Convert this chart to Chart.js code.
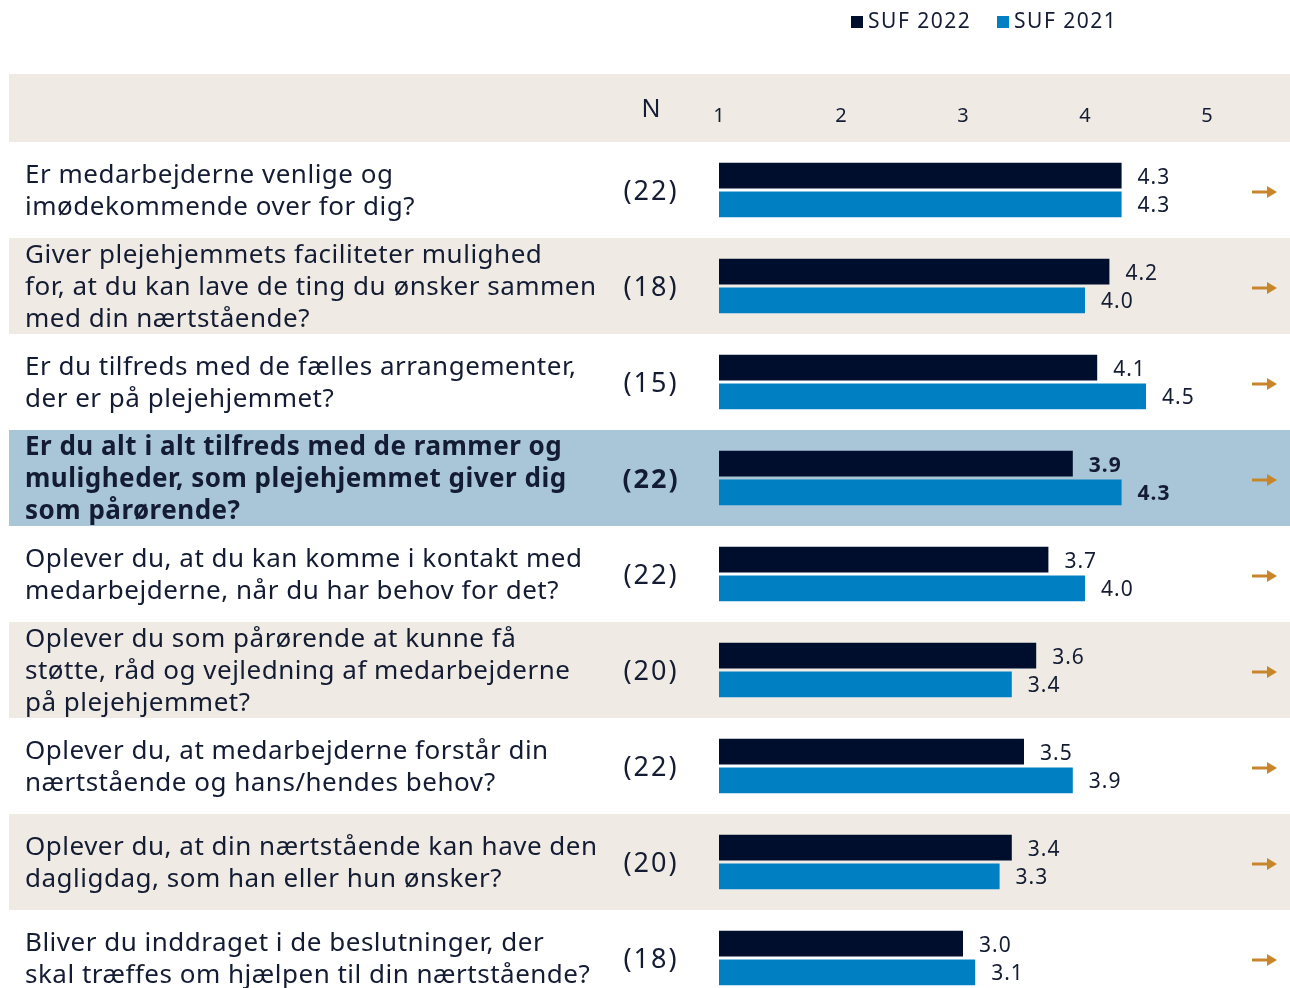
<!DOCTYPE html>
<html>
<head>
<meta charset="utf-8">
<script src="https://cdn.jsdelivr.net/npm/chart.js@4"></script>
<style>
html,body{margin:0;padding:0;background:#fff;overflow:hidden;}
canvas{display:block;}
</style>
</head>
<body>
<canvas id="c" width="1290" height="1006"></canvas>
<script>
const questions = [
  ["Er medarbejderne venlige og", "imødekommende over for dig?"],
  ["Giver plejehjemmets faciliteter mulighed", "for, at du kan lave de ting du ønsker sammen", "med din nærtstående?"],
  ["Er du tilfreds med de fælles arrangementer,", "der er på plejehjemmet?"],
  ["Er du alt i alt tilfreds med de rammer og", "muligheder, som plejehjemmet giver dig", "som pårørende?"],
  ["Oplever du, at du kan komme i kontakt med", "medarbejderne, når du har behov for det?"],
  ["Oplever du som pårørende at kunne få", "støtte, råd og vejledning af medarbejderne", "på plejehjemmet?"],
  ["Oplever du, at medarbejderne forstår din", "nærtstående og hans/hendes behov?"],
  ["Oplever du, at din nærtstående kan have den", "dagligdag, som han eller hun ønsker?"],
  ["Bliver du inddraget i de beslutninger, der", "skal træffes om hjælpen til din nærtstående?"]
];
const nValues = [22, 18, 15, 22, 22, 20, 22, 20, 18];
const suf2022 = [4.3, 4.2, 4.1, 3.9, 3.7, 3.6, 3.5, 3.4, 3.0];
const suf2021 = [4.3, 4.0, 4.5, 4.3, 4.0, 3.4, 3.9, 3.3, 3.1];
const seriesLabels = ["SUF 2022", "SUF 2021"];
const tickValues = [1, 2, 3, 4, 5];
const highlightIndex = 3;

const NAVY = '#000e2e';
const BLUE = '#0080c2';
const BEIGE = '#efebe4';
const HILITE = '#a8c6d8';
const TEXT = '#141c33';
const ARROW = '#c8862a';
const FONT = '"Noto Sans", sans-serif';

const tablePlugin = {
  id: 'table',
  beforeDraw(chart) {
    const ctx = chart.ctx;
    const y = chart.scales.y;
    const rowH = y.height / questions.length;
    ctx.save();
    ctx.fillStyle = BEIGE;
    ctx.fillRect(9, 74, chart.width - 9, chart.chartArea.top - 74);
    questions.forEach((q, i) => {
      const c = y.getPixelForValue(i);
      let col = null;
      if (i === highlightIndex) col = HILITE;
      else if (i % 2 === 1) col = BEIGE;
      if (col) {
        ctx.fillStyle = col;
        ctx.fillRect(9, c - rowH / 2, chart.width - 9, rowH);
      }
    });
    ctx.restore();
  },
  afterDatasetsDraw(chart) {
    const ctx = chart.ctx;
    const y = chart.scales.y;
    ctx.save();
    ctx.fillStyle = TEXT;
    // header N
    ctx.font = '25px ' + FONT;
    ctx.letterSpacing = '0px';
    ctx.textAlign = 'center';
    ctx.textBaseline = 'middle';
    ctx.fillText('N', 651, 110);
    // legend
    ctx.font = '21px ' + FONT;
    ctx.letterSpacing = '1.5px';
    ctx.textAlign = 'left';
    const legendX = [851, 997];
    chart.data.datasets.forEach((ds, k) => {
      ctx.fillStyle = ds.backgroundColor;
      ctx.fillRect(legendX[k], 16, 12, 12);
      ctx.fillStyle = TEXT;
      ctx.fillText(ds.label, legendX[k] + 17, 22);
    });
    // rows
    questions.forEach((q, i) => {
      const c = y.getPixelForValue(i);
      const bold = i === highlightIndex ? 'bold ' : '';
      ctx.fillStyle = TEXT;
      ctx.font = bold + '26px ' + FONT;
      ctx.letterSpacing = '0.5px';
      ctx.textAlign = 'left';
      ctx.textBaseline = 'middle';
      const lh = 32;
      const start = c + 2 - (q.length - 1) * lh / 2;
      q.forEach((line, j) => ctx.fillText(line, 25, start + j * lh));
      ctx.textAlign = 'center';
      ctx.font = bold + '27px ' + FONT;
      ctx.letterSpacing = '2px';
      ctx.fillText('(' + nValues[i] + ')', 651, c + 2);
      // arrow
      ctx.strokeStyle = ARROW;
      ctx.fillStyle = ARROW;
      ctx.lineWidth = 3;
      ctx.beginPath();
      ctx.moveTo(1252, c + 2);
      ctx.lineTo(1268, c + 2);
      ctx.stroke();
      ctx.beginPath();
      ctx.moveTo(1277, c + 2);
      ctx.lineTo(1267, c - 4);
      ctx.lineTo(1267, c + 8);
      ctx.closePath();
      ctx.fill();
    });
    // value labels
    chart.data.datasets.forEach((ds, k) => {
      const meta = chart.getDatasetMeta(k);
      meta.data.forEach((bar, i) => {
        const bold = i === highlightIndex ? 'bold ' : '';
        ctx.font = bold + '21px ' + FONT;
        ctx.letterSpacing = '1px';
        ctx.fillStyle = TEXT;
        ctx.textAlign = 'left';
        ctx.textBaseline = 'middle';
        ctx.fillText(ds.data[i].toFixed(1), bar.x + 16, bar.y + 2);
      });
    });
    ctx.restore();
  }
};

new Chart(document.getElementById('c'), {
  type: 'bar',
  data: {
    labels: questions.map(q => q.join(' ')),
    datasets: [
      { label: seriesLabels[0], data: suf2022, backgroundColor: NAVY, categoryPercentage: 0.6, barPercentage: 0.9 },
      { label: seriesLabels[1], data: suf2021, backgroundColor: BLUE, categoryPercentage: 0.6, barPercentage: 0.9 }
    ]
  },
  options: {
    indexAxis: 'y',
    responsive: false,
    animation: false,
    layout: { padding: { left: 719, right: 83, top: 0, bottom: 0 } },
    plugins: { legend: { display: false }, tooltip: { enabled: false } },
    scales: {
      x: {
        position: 'top',
        min: 1, max: 5,
        grid: { display: false, drawTicks: false },
        border: { display: false },
        afterBuildTicks(s) { s.ticks = tickValues.map(v => ({ value: v })); },
        ticks: { font: { size: 20, family: FONT }, color: TEXT, padding: 14, maxRotation: 0 },
        afterFit(s) { s.height = 142; }
      },
      y: { display: false }
    }
  },
  plugins: [tablePlugin]
});
</script>
</body>
</html>
